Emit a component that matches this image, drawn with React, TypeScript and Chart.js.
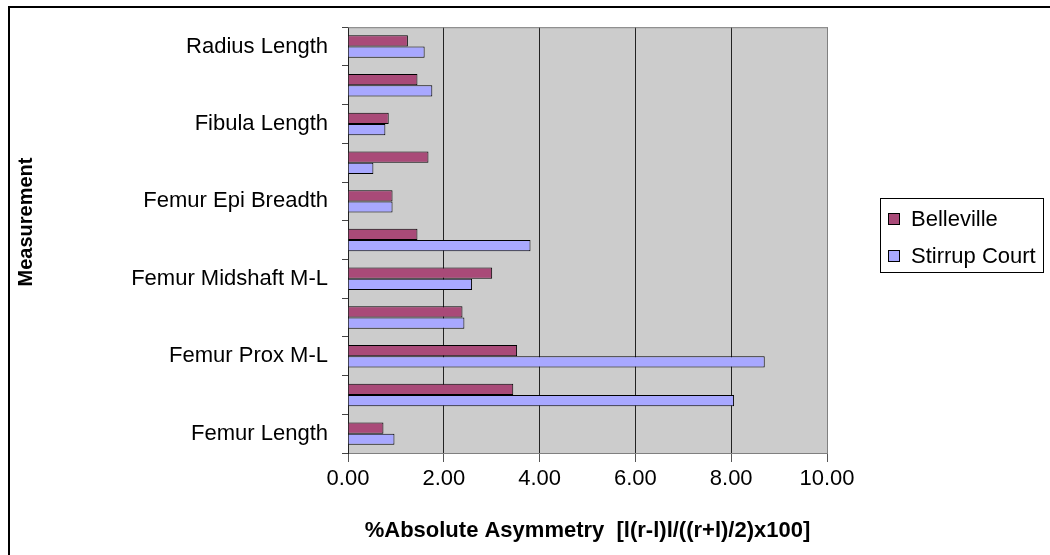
import React, { useEffect, useRef } from "react";
import { Chart, registerables } from "chart.js";

Chart.register(...registerables);

// Categories from top to bottom (only every other label is shown on the axis)
const categories = [
  "Radius Length",
  "Humerus Length",
  "Fibula Length",
  "Tibia Length",
  "Femur Epi Breadth",
  "Femur Midshaft A-P",
  "Femur Midshaft M-L",
  "Femur Prox A-P",
  "Femur Prox M-L",
  "Femur Max Length",
  "Femur Length",
];
const belleville = [1.25, 1.45, 0.85, 1.68, 0.93, 1.45, 3.01, 2.39, 3.53, 3.45, 0.74];
const stirrupCourt = [1.6, 1.76, 0.78, 0.53, 0.93, 3.81, 2.59, 2.43, 8.7, 8.06, 0.97];
const seriesNames = ["Belleville", "Stirrup Court"];
const seriesColors = ["#A94A78", "#A8A8FF"];
const xTitle = "%Absolute Asymmetry  [l(r-l)l/((r+l)/2)x100]";
const yTitle = "Measurement";

const FONT = "'Liberation Sans', Arial, sans-serif";

const decorPlugin = {
  id: "decor",
  beforeDraw(chart: any) {
    const { ctx, chartArea: a } = chart;
    ctx.save();
    ctx.fillStyle = "#CCCCCC";
    ctx.fillRect(a.left, a.top, a.right - a.left, a.bottom - a.top);
    ctx.restore();
  },
  beforeDatasetsDraw(chart: any) {
    const { ctx, chartArea: a } = chart;
    ctx.save();
    ctx.strokeStyle = "#808080";
    ctx.lineWidth = 1;
    ctx.beginPath();
    ctx.moveTo(a.left, a.top + 0.5);
    ctx.lineTo(a.right + 0.5, a.top + 0.5);
    ctx.lineTo(a.right + 0.5, a.bottom);
    ctx.stroke();
    ctx.restore();
  },
  afterDraw(chart: any) {
    const { ctx, chartArea: a } = chart;
    ctx.save();
    // outer border
    ctx.strokeStyle = "#000";
    ctx.lineWidth = 2;
    ctx.strokeRect(9, 7, 1200, 700);
    // axis titles
    ctx.fillStyle = "#000";
    ctx.font = `bold 22px ${FONT}`;
    ctx.textAlign = "center";
    ctx.textBaseline = "middle";
    ctx.fillText(xTitle, (a.left + a.right) / 2, 531);
    ctx.save();
    ctx.translate(26, 222);
    ctx.rotate(-Math.PI / 2);
    ctx.font = `bold 20px ${FONT}`;
    ctx.fillText(yTitle, 0, 0);
    ctx.restore();
    // legend
    ctx.lineWidth = 1;
    ctx.strokeStyle = "#000";
    ctx.strokeRect(880.5, 198.5, 163, 74);
    const ys = [219, 256];
    ctx.font = `22px ${FONT}`;
    ctx.textAlign = "left";
    seriesNames.forEach((n, i) => {
      ctx.fillStyle = seriesColors[i];
      ctx.fillRect(889, ys[i] - 5, 10, 10);
      ctx.strokeStyle = "#000";
      ctx.strokeRect(888.5, ys[i] - 5.5, 11, 11);
      ctx.fillStyle = "#000";
      ctx.fillText(n, 911, ys[i] + 1);
    });
    ctx.restore();
  },
};

export default function App() {
  const ref = useRef<HTMLCanvasElement>(null);
  useEffect(() => {
    if (!ref.current) return;
    const chart = new Chart(ref.current, {
      type: "bar",
      data: {
        labels: categories,
        datasets: [
          {
            label: seriesNames[0],
            data: belleville,
            backgroundColor: seriesColors[0],
            borderColor: "#000",
            borderWidth: 1,
          },
          {
            label: seriesNames[1],
            data: stirrupCourt,
            backgroundColor: seriesColors[1],
            borderColor: "#000",
            borderWidth: 1,
          },
        ],
      },
      options: {
        indexAxis: "y",
        animation: false,
        responsive: false,
        devicePixelRatio: 1,
        layout: { padding: { top: 16, right: 223, left: 0, bottom: 0 } },
        datasets: { bar: { categoryPercentage: 0.58, barPercentage: 1 } },
        plugins: { legend: { display: false }, tooltip: { enabled: false } },
        scales: {
          x: {
            min: 0,
            max: 10,
            ticks: {
              stepSize: 2,
              color: "#000",
              font: { family: FONT, size: 22 },
              padding: 4,
              callback: (v: any) => Number(v).toFixed(2),
            },
            grid: {
              color: (c: any) => (c.index === 5 ? "#808080" : "#222"),
              lineWidth: 1,
              tickLength: 9,
              tickColor: "#555",
              offset: false,
            },
            border: { display: true, color: "#808080" },
            afterFit: (s: any) => {
              s.height = 102;
            },
          },
          y: {
            ticks: {
              color: "#000",
              font: { family: FONT, size: 22 },
              padding: 14,
              autoSkip: false,
              callback: function (this: any, v: any, i: number) {
                return i % 2 === 0 ? this.getLabelForValue(v) : "";
              },
            },
            grid: {
              drawOnChartArea: false,
              drawTicks: true,
              tickLength: 6,
              color: "#444",
              offset: true,
            },
            border: { display: true, color: "#222" },
            afterFit: (s: any) => {
              s.width = 348;
            },
          },
        },
      },
      plugins: [decorPlugin],
    });
    return () => chart.destroy();
  }, []);
  return (
    <div style={{ position: "fixed", left: 0, top: 0, width: 1050, height: 555, background: "#fff" }}>
      <canvas ref={ref} width={1050} height={555} />
    </div>
  );
}
